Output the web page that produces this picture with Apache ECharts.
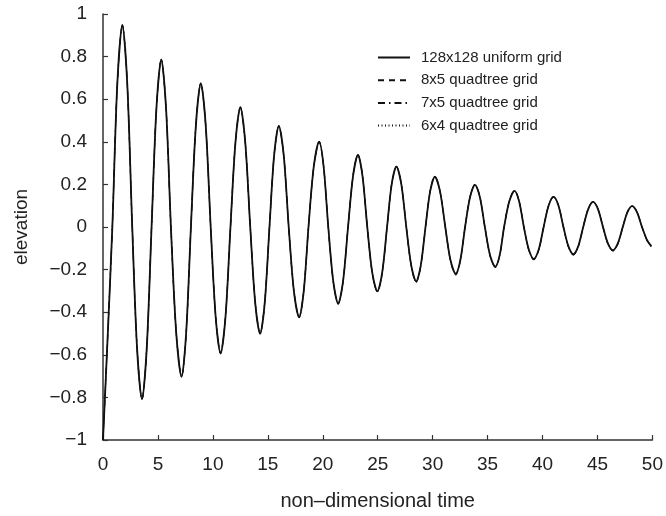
<!DOCTYPE html>
<html>
<head>
<meta charset="utf-8">
<script src="https://cdn.jsdelivr.net/npm/echarts@6/dist/echarts.min.js"></script>
<style>html,body{margin:0;padding:0;background:#fff}#c{width:666px;height:516px}</style>
</head>
<body>
<div id="c"></div>
<script>
const seriesNames = ['128x128 uniform grid', '8x5 quadtree grid', '7x5 quadtree grid', '6x4 quadtree grid'];
const xTicks = [0, 5, 10, 15, 20, 25, 30, 35, 40, 45, 50];
const yTicks = [-1, -0.8, -0.6, -0.4, -0.2, 0, 0.2, 0.4, 0.6, 0.8, 1];

const time = [0, 0.42, 0.85, 1.3, 1.76, 2.21, 2.66, 3.1, 3.55, 3.98, 4.42, 4.86, 5.3, 5.74, 6.18, 6.66, 7.15, 7.57, 8.0, 8.45, 8.9, 9.35, 9.8, 10.25, 10.7, 11.15, 11.6, 12.05, 12.5, 12.95, 13.4, 13.85, 14.3, 14.72, 15.15, 15.57, 16.0, 16.45, 16.9, 17.37, 17.85, 18.27, 18.7, 19.18, 19.67, 20.08, 20.5, 20.95, 21.4, 21.85, 22.3, 22.75, 23.2, 23.62, 24.05, 24.5, 24.97, 25.41, 25.85, 26.27, 26.7, 27.15, 27.6, 28.05, 28.5, 28.92, 29.35, 29.77, 30.2, 30.67, 31.15, 31.62, 32.1, 32.52, 32.95, 33.4, 33.85, 34.3, 34.75, 35.22, 35.7, 36.1, 36.5, 36.97, 37.45, 37.87, 38.3, 38.75, 39.2, 39.65, 40.1, 40.55, 41.0, 41.45, 41.9, 42.35, 42.8, 43.25, 43.7, 44.15, 44.6, 45.05, 45.5, 45.95, 46.4, 46.85, 47.3, 47.72, 48.15, 48.6, 49.05, 49.5, 49.9];

const uniform = [-1, -0.52, 0, 0.67, 0.949, 0.67, 0, -0.57, -0.809, -0.57, 0, 0.555, 0.787, 0.555, 0, -0.495, -0.704, -0.495, 0, 0.475, 0.675, 0.475, 0, -0.42, -0.594, -0.42, 0, 0.395, 0.563, 0.395, 0, -0.355, -0.501, -0.355, 0, 0.335, 0.475, 0.335, 0, -0.3, -0.424, -0.3, 0, 0.283, 0.401, 0.283, 0, -0.253, -0.359, -0.253, 0, 0.238, 0.338, 0.238, 0, -0.213, -0.301, -0.213, 0, 0.2, 0.283, 0.2, 0, -0.18, -0.255, -0.18, 0, 0.167, 0.236, 0.167, 0, -0.155, -0.219, -0.155, 0, 0.14, 0.198, 0.14, 0, -0.132, -0.186, -0.132, 0, 0.12, 0.17, 0.12, 0, -0.106, -0.15, -0.106, 0, 0.1, 0.141, 0.1, 0, -0.09, -0.128, -0.09, 0, 0.083, 0.118, 0.083, 0, -0.077, -0.109, -0.077, 0, 0.069, 0.098, 0.069, 0, -0.06, -0.09];
const quad8x5 = [-1, -0.52, 0, 0.67, 0.949, 0.67, 0, -0.57, -0.809, -0.57, 0, 0.555, 0.787, 0.555, 0, -0.495, -0.704, -0.495, 0, 0.475, 0.675, 0.475, 0, -0.42, -0.594, -0.42, 0, 0.395, 0.563, 0.395, 0, -0.355, -0.501, -0.355, 0, 0.335, 0.475, 0.335, 0, -0.3, -0.424, -0.3, 0, 0.283, 0.401, 0.283, 0, -0.255, -0.362, -0.255, 0, 0.24, 0.34, 0.24, 0, -0.217, -0.306, -0.217, 0, 0.202, 0.285, 0.202, 0, -0.183, -0.26, -0.183, 0, 0.169, 0.238, 0.169, 0, -0.159, -0.225, -0.159, 0, 0.142, 0.2, 0.142, 0, -0.135, -0.19, -0.135, 0, 0.122, 0.172, 0.122, 0, -0.109, -0.154, -0.109, 0, 0.102, 0.143, 0.102, 0, -0.093, -0.132, -0.093, 0, 0.085, 0.12, 0.085, 0, -0.08, -0.113, -0.08, 0, 0.071, 0.1, 0.071, 0, -0.063, -0.093];
const quad7x5 = [-1, -0.52, 0, 0.67, 0.949, 0.67, 0, -0.57, -0.809, -0.57, 0, 0.555, 0.787, 0.555, 0, -0.495, -0.704, -0.495, 0, 0.475, 0.675, 0.475, 0, -0.42, -0.594, -0.42, 0, 0.395, 0.563, 0.395, 0, -0.355, -0.501, -0.355, 0, 0.335, 0.475, 0.335, 0, -0.3, -0.424, -0.3, 0, 0.283, 0.401, 0.283, 0, -0.254, -0.361, -0.254, 0, 0.239, 0.339, 0.239, 0, -0.215, -0.304, -0.215, 0, 0.201, 0.284, 0.201, 0, -0.182, -0.258, -0.182, 0, 0.168, 0.237, 0.168, 0, -0.157, -0.222, -0.157, 0, 0.141, 0.199, 0.141, 0, -0.134, -0.188, -0.134, 0, 0.121, 0.171, 0.121, 0, -0.108, -0.152, -0.108, 0, 0.101, 0.142, 0.101, 0, -0.092, -0.13, -0.092, 0, 0.084, 0.119, 0.084, 0, -0.079, -0.111, -0.079, 0, 0.07, 0.099, 0.07, 0, -0.062, -0.092];
const quad6x4 = [-1, -0.52, 0, 0.67, 0.949, 0.67, 0, -0.57, -0.809, -0.57, 0, 0.555, 0.787, 0.555, 0, -0.495, -0.704, -0.495, 0, 0.475, 0.675, 0.475, 0, -0.42, -0.594, -0.42, 0, 0.395, 0.563, 0.395, 0, -0.355, -0.501, -0.355, 0, 0.335, 0.475, 0.335, 0, -0.3, -0.424, -0.3, 0, 0.283, 0.401, 0.283, 0, -0.253, -0.36, -0.253, 0, 0.238, 0.338, 0.238, 0, -0.214, -0.302, -0.214, 0, 0.2, 0.283, 0.2, 0, -0.181, -0.256, -0.181, 0, 0.167, 0.236, 0.167, 0, -0.156, -0.221, -0.156, 0, 0.14, 0.198, 0.14, 0, -0.133, -0.187, -0.133, 0, 0.12, 0.17, 0.12, 0, -0.107, -0.151, -0.107, 0, 0.1, 0.141, 0.1, 0, -0.091, -0.129, -0.091, 0, 0.084, 0.119, 0.084, 0, -0.078, -0.11, -0.078, 0, 0.069, 0.098, 0.069, 0, -0.061, -0.09];

const values = [uniform, quad8x5, quad7x5, quad6x4];
const styles = [
  {type: 'solid', width: 1.8},
  {type: [6, 5], width: 1.1},
  {type: [7, 4, 1.5, 4], width: 1.1},
  {type: [1, 2.5], width: 1}
];

const font = 'Liberation Sans, Arial, Helvetica, sans-serif';
const chart = echarts.init(document.getElementById('c'), null, {renderer: 'canvas'});
chart.setOption({
  animation: false,
  backgroundColor: '#fff',
  grid: {left: 103, right: 13, top: 14, bottom: 69, containLabel: false},
  legend: {
    orient: 'vertical', left: 372, top: 45,
    itemWidth: 32, itemHeight: 14, itemGap: 7.7,
    itemStyle: {opacity: 0},
    textStyle: {fontFamily: font, fontSize: 15, color: '#222', padding: [0, 0, 0, 6]},
    data: seriesNames
  },
  xAxis: {
    type: 'value', min: 0, max: 50, interval: 5,
    name: 'non\u2013dimensional time', nameLocation: 'middle', nameGap: 51,
    nameTextStyle: {fontFamily: font, fontSize: 20, color: '#222'},
    axisLine: {show: true, onZero: false, lineStyle: {color: '#333', width: 1.5}},
    axisTick: {show: true, inside: true, length: 5, lineStyle: {color: '#333', width: 1.2}},
    axisLabel: {fontFamily: font, fontSize: 19, color: '#222', margin: 15,
      formatter: v => xTicks.includes(v) ? String(v) : ''},
    splitLine: {show: false}
  },
  yAxis: {
    type: 'value', min: -1, max: 1, interval: 0.2,
    name: 'elevation', nameLocation: 'middle', nameGap: 72, nameRotate: 90,
    nameTextStyle: {fontFamily: font, fontSize: 19, color: '#222'},
    axisLine: {show: true, onZero: false, lineStyle: {color: '#333', width: 1.5}},
    axisTick: {show: true, inside: true, length: 5, lineStyle: {color: '#333', width: 1.2}},
    axisLabel: {fontFamily: font, fontSize: 19, color: '#222', margin: 16,
      formatter: v => {
        const r = Math.round(v * 10) / 10;
        const match = yTicks.find(t => Math.abs(t - r) < 1e-9);
        if (match === undefined) return '';
        return r < 0 ? '\u2212' + String(Math.abs(r)) : String(r);
      }},
    splitLine: {show: false}
  },
  series: seriesNames.map((name, i) => ({
    name: name,
    type: 'line',
    data: time.map((t, k) => [t, values[i][k]]),
    smooth: 0.3,
    symbol: 'none',
    showSymbol: false,
    z: 10 - i,
    lineStyle: {color: '#111', type: styles[i].type, width: styles[i].width},
    itemStyle: {color: '#111'}
  }))
});
</script>
</body>
</html>
